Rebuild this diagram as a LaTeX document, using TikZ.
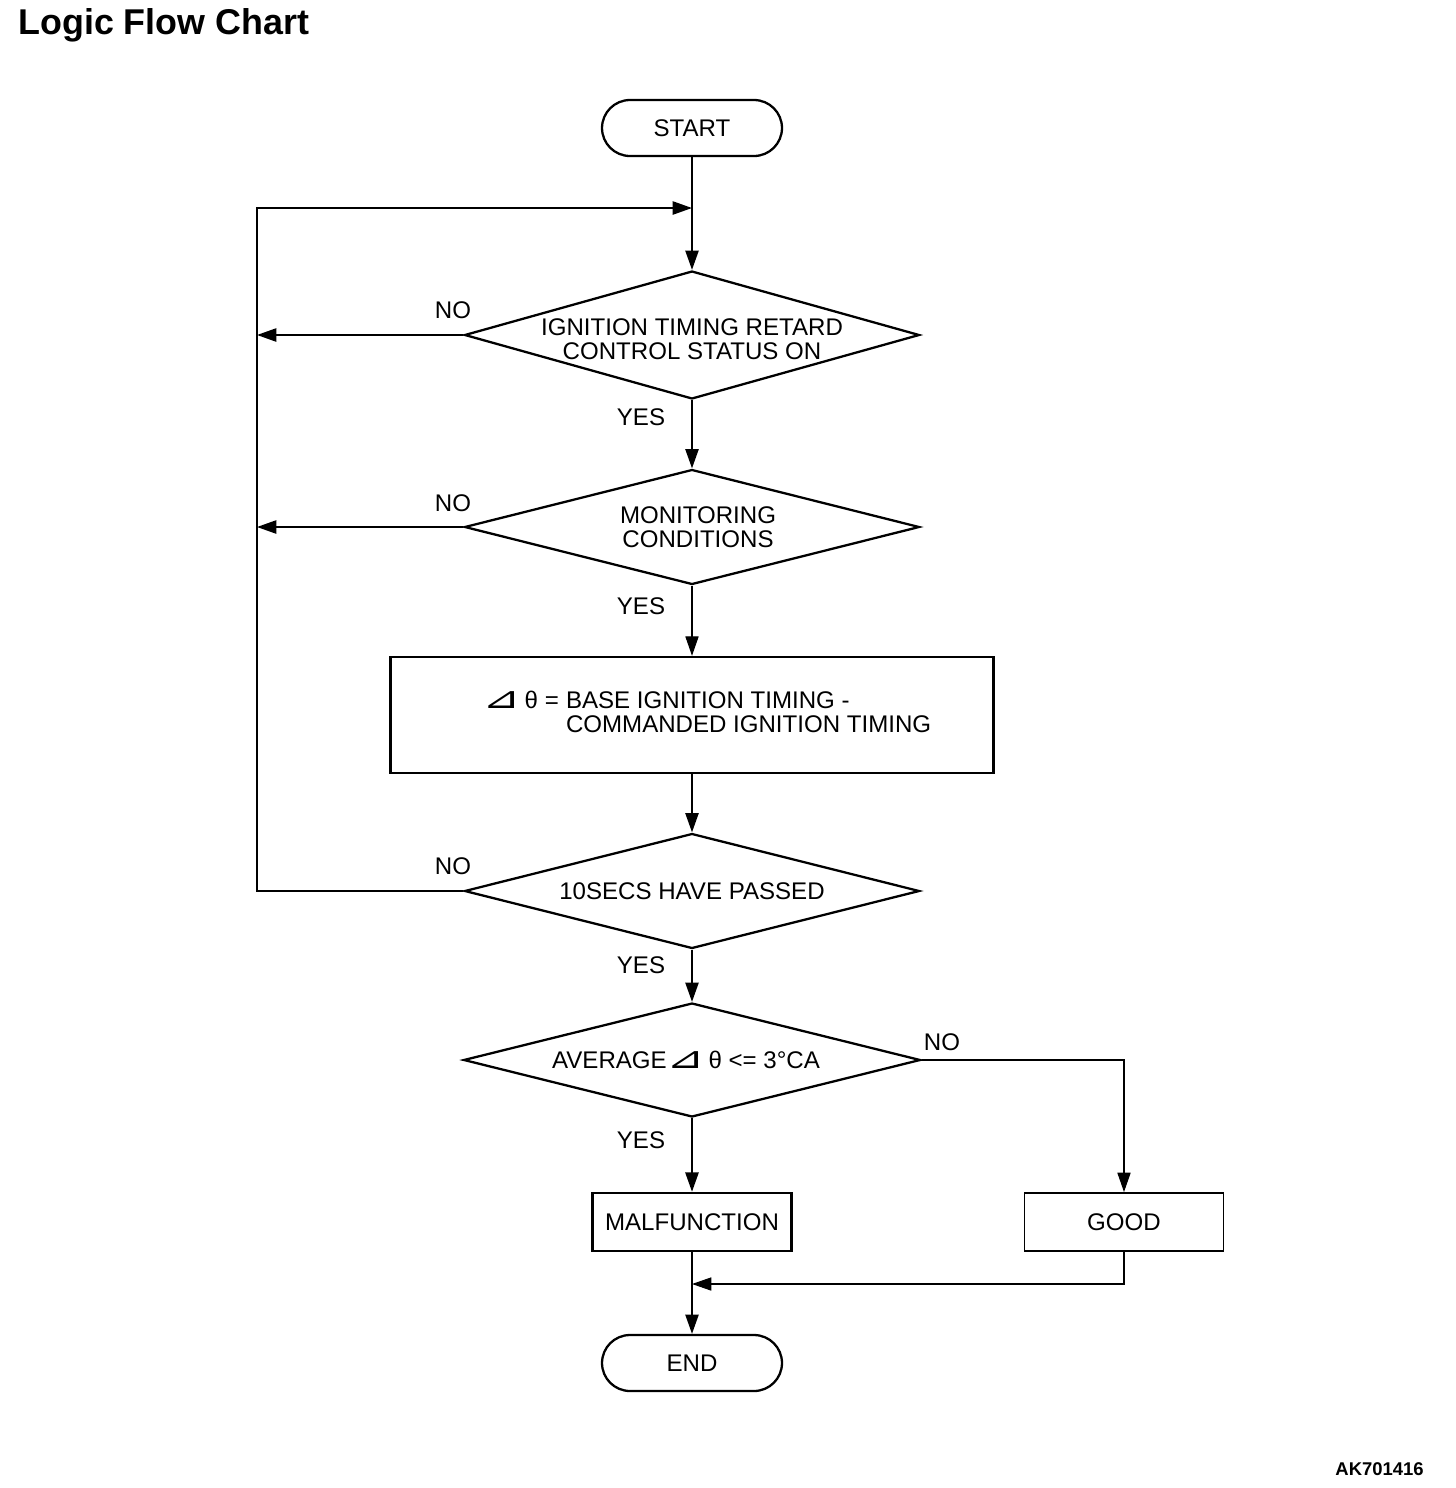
\documentclass[tikz,border=0pt]{standalone}
\usepackage{fontspec}
\usepackage{graphicx}
\setmainfont{Liberation Sans}
\newfontfamily\symfont{DejaVu Sans}
\usetikzlibrary{shapes.geometric,arrows.meta}
\newcommand{\dtheta}{{\symfont\scalebox{1.9}[1.25]{⊿}}\kern2ptθ}

\tikzset{
  terminal/.style={draw, line width=1.3pt, rectangle, rounded corners=0.56cm, minimum width=3.6cm, minimum height=1.12cm},
  decision/.style={draw, line width=1.3pt, diamond, minimum width=9.1cm, inner sep=0pt},
  process/.style={draw, line width=1.4pt, rectangle, minimum height=1.16cm},
  dtext/.style={align=center, inner sep=0pt},
  flow/.style={line width=1.1pt, -{Triangle[length=11pt,width=7.5pt]}},
  thin flow/.style={flow, line width=0.6pt},
}

\begin{document}
\begin{tikzpicture}[x=0.02cm, y=-0.02cm, font=\fontsize{13.7}{13.6}\selectfont]
  \useasboundingbox (0,0) rectangle (1456,1488);
  % title and drawing number
  \node[anchor=base west, inner sep=0pt, font=\bfseries\fontsize{20.4}{24}\selectfont] (title) at (18,34) {Logic Flow Chart};
  \node[anchor=base east, inner sep=0pt, font=\bfseries\fontsize{10.5}{12}\selectfont] (code) at (1424,1475) {AK701416};

  % boxes
  \node[terminal] (start) at (692,128) {START};
  \node[decision, minimum height=2.56cm, label={[dtext, yshift=-0.08cm]center:IGNITION TIMING RETARD\\CONTROL STATUS ON}] (retard) at (692,335) {};
  \node[decision, minimum height=2.3cm, label={[dtext, xshift=0.12cm]center:MONITORING\\CONDITIONS}] (monitor) at (692,527) {};
  \node[process, minimum width=12.06cm, minimum height=2.32cm] (delta) at (692,715)
    {\begin{tabular}{@{\hspace{0.6cm}}l@{\kern0.3em}l@{}}\dtheta{} = & BASE IGNITION TIMING -\\ & COMMANDED IGNITION TIMING\end{tabular}};
  \node[decision, minimum height=2.3cm, label={[dtext]center:10SECS HAVE PASSED}] (tenSecs) at (692,891) {};
  \node[decision, minimum width=9.14cm, minimum height=2.28cm, label={[dtext, xshift=-0.12cm]center:AVERAGE\dtheta{} <= 3°CA}] (average) at (692,1060) {};
  \node[process, minimum width=3.98cm] (malf) at (692,1222) {MALFUNCTION};
  \node[process, minimum width=3.98cm, line width=1.1pt] (good) at (1124,1222) {GOOD};
  \node[terminal] (finish) at (692,1363) {END};

  % yes / no
  \node (no1) at (453,310) {NO};
  \node (yes1) at (641,417) {YES};
  \node (no2) at (453,503) {NO};
  \node (yes2) at (641,606) {YES};
  \node (no3) at (453,866) {NO};
  \node (yes3) at (641,965) {YES};
  \node (no4) at (942,1042) {NO};
  \node (yes4) at (641,1140) {YES};

  % connectors
  \coordinate (loopTop) at (257,208);
  \coordinate (loopBot) at (257,891);
  \coordinate (merge) at (692,1284);
  \draw[flow] (start.south) -- (retard.north);
  \draw[flow] (tenSecs.west) -- (loopBot) -- (loopTop) -- (start.south |- loopTop);
  \draw[flow] (retard.west) -- (retard.west -| loopTop);
  \draw[flow] (monitor.west) -- (monitor.west -| loopTop);
  \draw[flow] (retard.south) -- (monitor.north);
  \draw[thin flow] (monitor.south) -- (delta.north);
  \draw[flow] (delta.south) -- (tenSecs.north);
  \draw[flow] (tenSecs.south) -- (average.north);
  \draw[flow] (average.south) -- (malf.north);
  \draw[thin flow] (average.east) -| (good.north);
  \draw[flow] (malf.south) -- (finish.north);
  \draw[thin flow] (good.south) |- (merge);
\end{tikzpicture}
\end{document}
